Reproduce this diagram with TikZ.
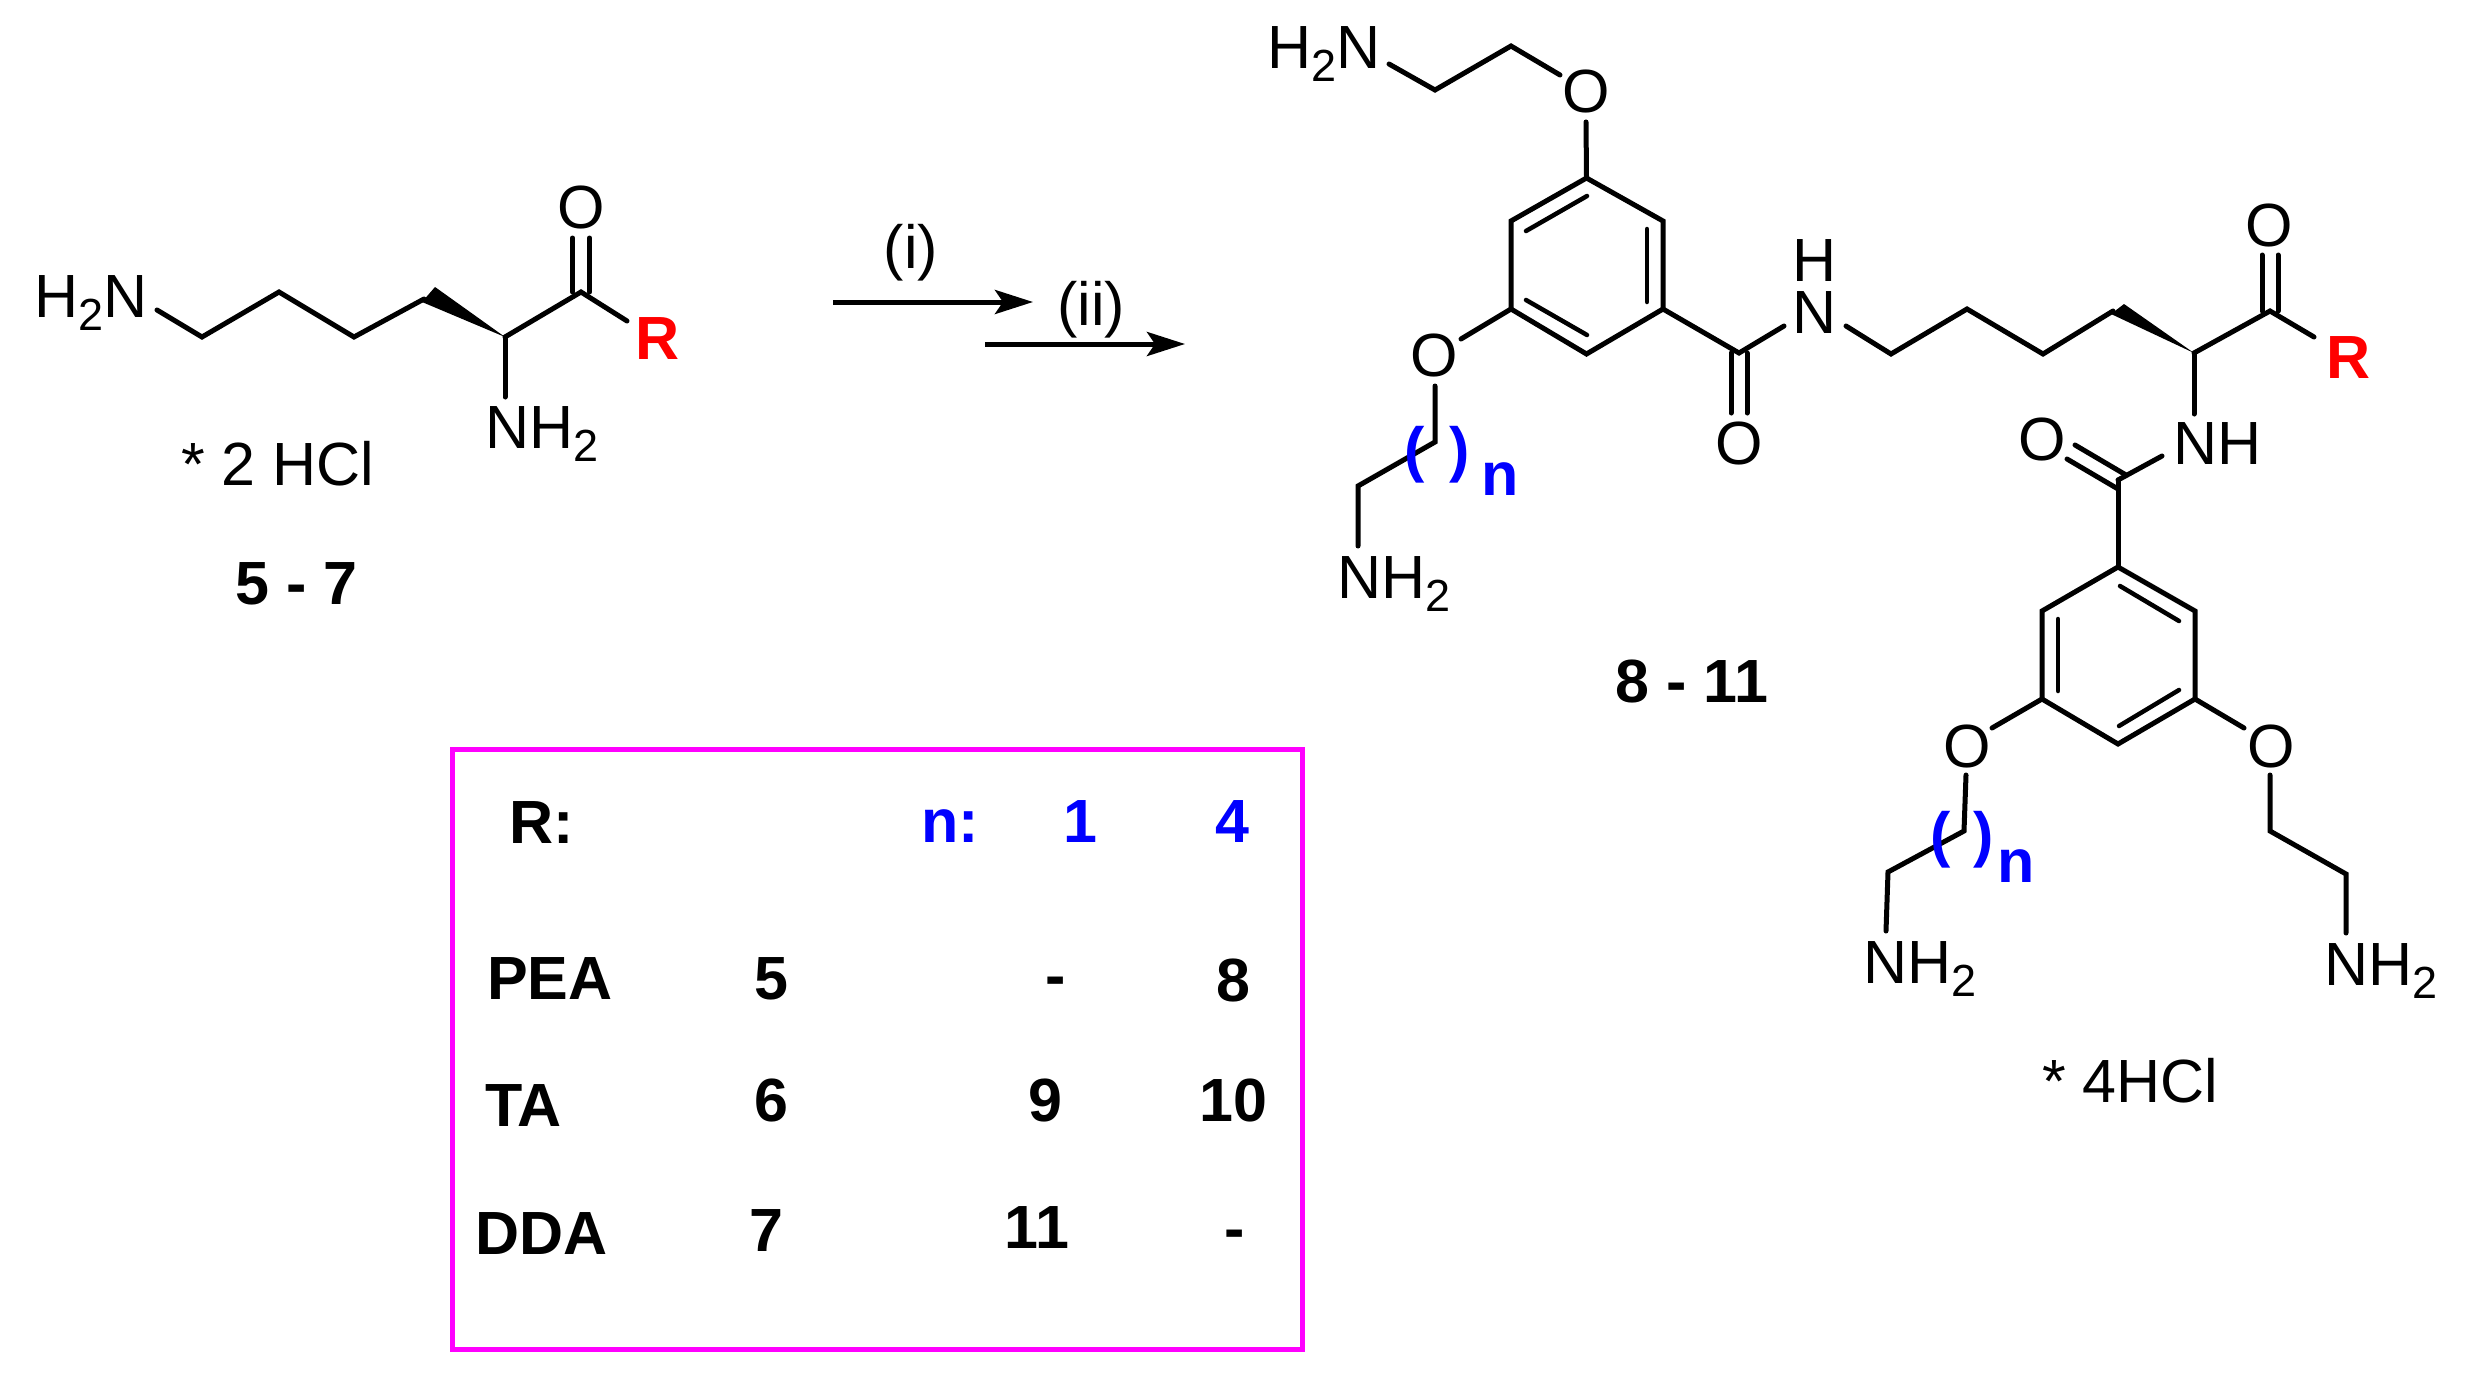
\documentclass[tikz,border=0pt]{standalone}
\usepackage{fontspec}
\setmainfont{Liberation Sans}
\usetikzlibrary{arrows.meta}
\newcommand{\chemtwo}{\raisebox{-13pt}{\fontsize{45}{45}\selectfont 2}}
\definecolor{boxmag}{RGB}{255,0,255}
\definecolor{labblue}{RGB}{0,0,255}
\definecolor{labred}{RGB}{255,0,0}
\tikzset{
  bondline/.style={line width=5pt,line join=miter,line cap=round,draw=black},
  innerbond/.style={line width=4.5pt,line cap=round,draw=black},
  wedgefill/.style={fill=black,draw=none},
  rxnarrow/.style={line width=5pt,draw=black,-{Stealth[length=38pt,width=24pt,inset=8pt]}},
  lab/.style={inner sep=0pt,outer sep=0pt,anchor=base,font=\fontsize{61}{61}\selectfont},
  labw/.style={lab,anchor=base west},
  blab/.style={lab,font=\fontsize{61}{61}\selectfont\bfseries},
  blabw/.style={blab,anchor=base west},
  nblue/.style={blab,text=labblue},
  nbluew/.style={blabw,text=labblue},
  rred/.style={blab,text=labred}
}
\begin{document}
\begin{tikzpicture}[x=1pt,y=-1pt]
\useasboundingbox (0,0) rectangle (2470,1375);
\fill[white] (0,0) rectangle (2470,1375);

% --- left molecule atoms
\coordinate (a1) at (157,310);
\coordinate (a2) at (202,337);
\coordinate (a3) at (279,292);
\coordinate (a4) at (354,337);
\coordinate (a5) at (424,299);
\coordinate (a5u) at (435,287);
\coordinate (a5l) at (422,302);
\coordinate (a6) at (505,337);
\coordinate (a7) at (581,292);
\coordinate (a8) at (627,321);
\coordinate (a9) at (505,397);
\coordinate (a7l) at (572.5,292);
\coordinate (a7r) at (589.5,292);
\coordinate (a7lt) at (572.5,238);
\coordinate (a7rt) at (589.5,238);

\draw[bondline] (a1) -- (a2) -- (a3) -- (a4) -- (a5);
\fill[wedgefill] (a6) -- (a5u) -- (a5l) -- cycle;
\draw[bondline] (a6) -- (a7) -- (a8);
\draw[bondline] (a6) -- (a9);
\draw[bondline] (a7l) -- (a7lt);
\draw[bondline] (a7r) -- (a7rt);

% --- arrows
\coordinate (r1s) at (833,302);
\coordinate (r1e) at (1033,302);
\coordinate (r2s) at (985,344);
\coordinate (r2e) at (1185,344);
\draw[rxnarrow] (r1s) -- (r1e);
\draw[rxnarrow] (r2s) -- (r2e);

% --- right molecule, upper ring
\coordinate (b1) at (1389,64);
\coordinate (b2) at (1435,90);
\coordinate (b3) at (1511,46);
\coordinate (b4) at (1560,75);
\coordinate (b5) at (1586,122);
\coordinate (rt) at (1586.5,178);
\coordinate (rur) at (1663,221);
\coordinate (rlr) at (1663,309);
\coordinate (rb) at (1586.5,354);
\coordinate (rll) at (1511,309);
\coordinate (rul) at (1511,221);
\coordinate (i1a) at (1526,231);
\coordinate (i1b) at (1587,196);
\coordinate (i2a) at (1647,229);
\coordinate (i2b) at (1647,302);
\coordinate (i3a) at (1526,300);
\coordinate (i3b) at (1587,335);
\draw[bondline] (b1) -- (b2) -- (b3) -- (b4);
\draw[bondline] (b5) -- (rt);
\draw[bondline] (rt) -- (rur) -- (rlr) -- (rb) -- (rll) -- (rul) -- cycle;
\draw[innerbond] (i1a) -- (i1b);
\draw[innerbond] (i2a) -- (i2b);
\draw[innerbond] (i3a) -- (i3b);

\coordinate (c1) at (1461,339);
\coordinate (c2) at (1435,386);
\coordinate (c3) at (1435,442);
\coordinate (c4) at (1358,486);
\coordinate (c5) at (1358,546);
\draw[bondline] (rll) -- (c1);
\draw[bondline] (c2) -- (c3) -- (c4) -- (c5);

% amide 1 and chain
\coordinate (d1) at (1739,353);
\coordinate (d2) at (1784,326);
\coordinate (d1l) at (1731,353);
\coordinate (d1r) at (1747,353);
\coordinate (d1lb) at (1731,413);
\coordinate (d1rb) at (1747,413);
\coordinate (e1) at (1846,326);
\coordinate (e2) at (1891,354);
\coordinate (e3) at (1967,309);
\coordinate (e4) at (2043,354);
\coordinate (e5) at (2113,311);
\coordinate (e5u) at (2124,304);
\coordinate (e5l) at (2111,314);
\coordinate (e6) at (2194,353);
\coordinate (e7) at (2270,311);
\coordinate (e8) at (2314,337);
\coordinate (e7l) at (2262,311);
\coordinate (e7r) at (2278,311);
\coordinate (e7lt) at (2262,255);
\coordinate (e7rt) at (2278,255);
\coordinate (e9) at (2194,414);
\draw[bondline] (rlr) -- (d1) -- (d2);
\draw[bondline] (d1l) -- (d1lb);
\draw[bondline] (d1r) -- (d1rb);
\draw[bondline] (e1) -- (e2) -- (e3) -- (e4) -- (e5);
\fill[wedgefill] (e6) -- (e5u) -- (e5l) -- cycle;
\draw[bondline] (e6) -- (e7) -- (e8);
\draw[bondline] (e7l) -- (e7lt);
\draw[bondline] (e7r) -- (e7rt);
\draw[bondline] (e6) -- (e9);

% amide 2
\coordinate (f1) at (2118,480);
\coordinate (f2) at (2162,456);
\coordinate (f3a) at (2075,445);
\coordinate (f3b) at (2126,475);
\coordinate (f4a) at (2067,459);
\coordinate (f4b) at (2118,489);
\draw[bondline] (f2) -- (f1);
\draw[bondline] (f3a) -- (f3b);
\draw[bondline] (f4a) -- (f4b);

% lower ring
\coordinate (st) at (2118,567);
\coordinate (sur) at (2195,611);
\coordinate (slr) at (2195,699);
\coordinate (sb) at (2118,744);
\coordinate (sll) at (2042,699);
\coordinate (sul) at (2042,611);
\coordinate (j1a) at (2120,586);
\coordinate (j1b) at (2179,621);
\coordinate (j2a) at (2058,619);
\coordinate (j2b) at (2058,691);
\coordinate (j3a) at (2119,726);
\coordinate (j3b) at (2179,690);
\draw[bondline] (f1) -- (st);
\draw[bondline] (st) -- (sur) -- (slr) -- (sb) -- (sll) -- (sul) -- cycle;
\draw[innerbond] (j1a) -- (j1b);
\draw[innerbond] (j2a) -- (j2b);
\draw[innerbond] (j3a) -- (j3b);

\coordinate (g1) at (1992,728);
\coordinate (g2) at (1966,775);
\coordinate (g3) at (1964,831);
\coordinate (g4) at (1888,872);
\coordinate (g5) at (1886,931);
\coordinate (h1) at (2244,728);
\coordinate (h2) at (2270,775);
\coordinate (h3) at (2270,831);
\coordinate (h4) at (2346,874);
\coordinate (h5) at (2346,933);
\draw[bondline] (sll) -- (g1);
\draw[bondline] (g2) -- (g3) -- (g4) -- (g5);
\draw[bondline] (slr) -- (h1);
\draw[bondline] (h2) -- (h3) -- (h4) -- (h5);

% --- left molecule labels
\node[labw] (lH2N) at (34,317) {H\chemtwo N};
\node[lab] (lO) at (581,228) {O};
\node[rred] (lR) at (658,359) {R};
\node[labw] (lNH2) at (485,448) {NH\chemtwo};
\node[labw] (lHCl) at (181,485) {* 2 HCl};
\node[blab] (lnum) at (296.5,604) {5 - 7};
\node[lab] (ri) at (911,268) {(i)};
\node[lab] (rii) at (1091,325) {(ii)};

% --- right molecule labels
\node[labw] (tH2N) at (1267,69) {H\chemtwo N};
\node[lab] (tO) at (1586,113) {O};
\node[lab] (tO2) at (1434,376) {O};
\node[labw] (tNH2) at (1337,598) {NH\chemtwo};
\node[lab] (aN) at (1815,333) {N};
\node[lab] (aH) at (1815,281) {H};
\node[lab] (aO) at (1739,464) {O};
\node[lab] (cO) at (2269,246) {O};
\node[rred] (cR) at (2348,378) {R};
\node[labw] (cNH) at (2173,464) {NH};
\node[lab] (bO) at (2042,460) {O};
\node[lab] (sO1) at (1967,767) {O};
\node[lab] (sO2) at (2271,767) {O};
\node[labw] (sN1) at (1863,983) {NH\chemtwo};
\node[labw] (sN2) at (2324,985) {NH\chemtwo};
\node[labw] (sHCl) at (2042,1102) {* 4HCl};
\node[blab] (rnum) at (1692,702) {8 - 11};
\node[nblue] (p1a) at (1415,470) {(};
\node[nblue] (p1b) at (1460,470) {)};
\node[nbluew] (n1) at (1481,495) {n};
\node[nblue] (p2a) at (1941,855) {(};
\node[nblue] (p2b) at (1984,855) {)};
\node[nbluew] (n2) at (1997,882) {n};

% --- table
\draw[draw=boxmag,line width=5pt] (452,749.5) rectangle (1302.5,1349);
\node[blabw] (tR) at (509,843.5) {R:};
\node[nbluew] (tn) at (921,842) {n:};
\node[nblue] (t1) at (1080,842) {1};
\node[nblue] (t4) at (1232,842) {4};
\node[blabw] (tPEA) at (487,999) {PEA};
\node[blab] (t5) at (771,999) {5};
\node[blab] (tda) at (1056,996) {-};
\node[blab] (t8) at (1233,1001) {8};
\node[blabw] (tTA) at (485,1126.5) {TA};
\node[blab] (t6) at (771,1121) {6};
\node[blab] (t9) at (1045.5,1121) {9};
\node[blab] (t10) at (1233,1121) {10};
\node[blabw] (tDDA) at (475,1254) {DDA};
\node[blab] (t7) at (766,1251) {7};
\node[blab] (t11) at (1037,1248) {11};
\node[blab] (tdb) at (1234.5,1249) {-};
\end{tikzpicture}
\end{document}
